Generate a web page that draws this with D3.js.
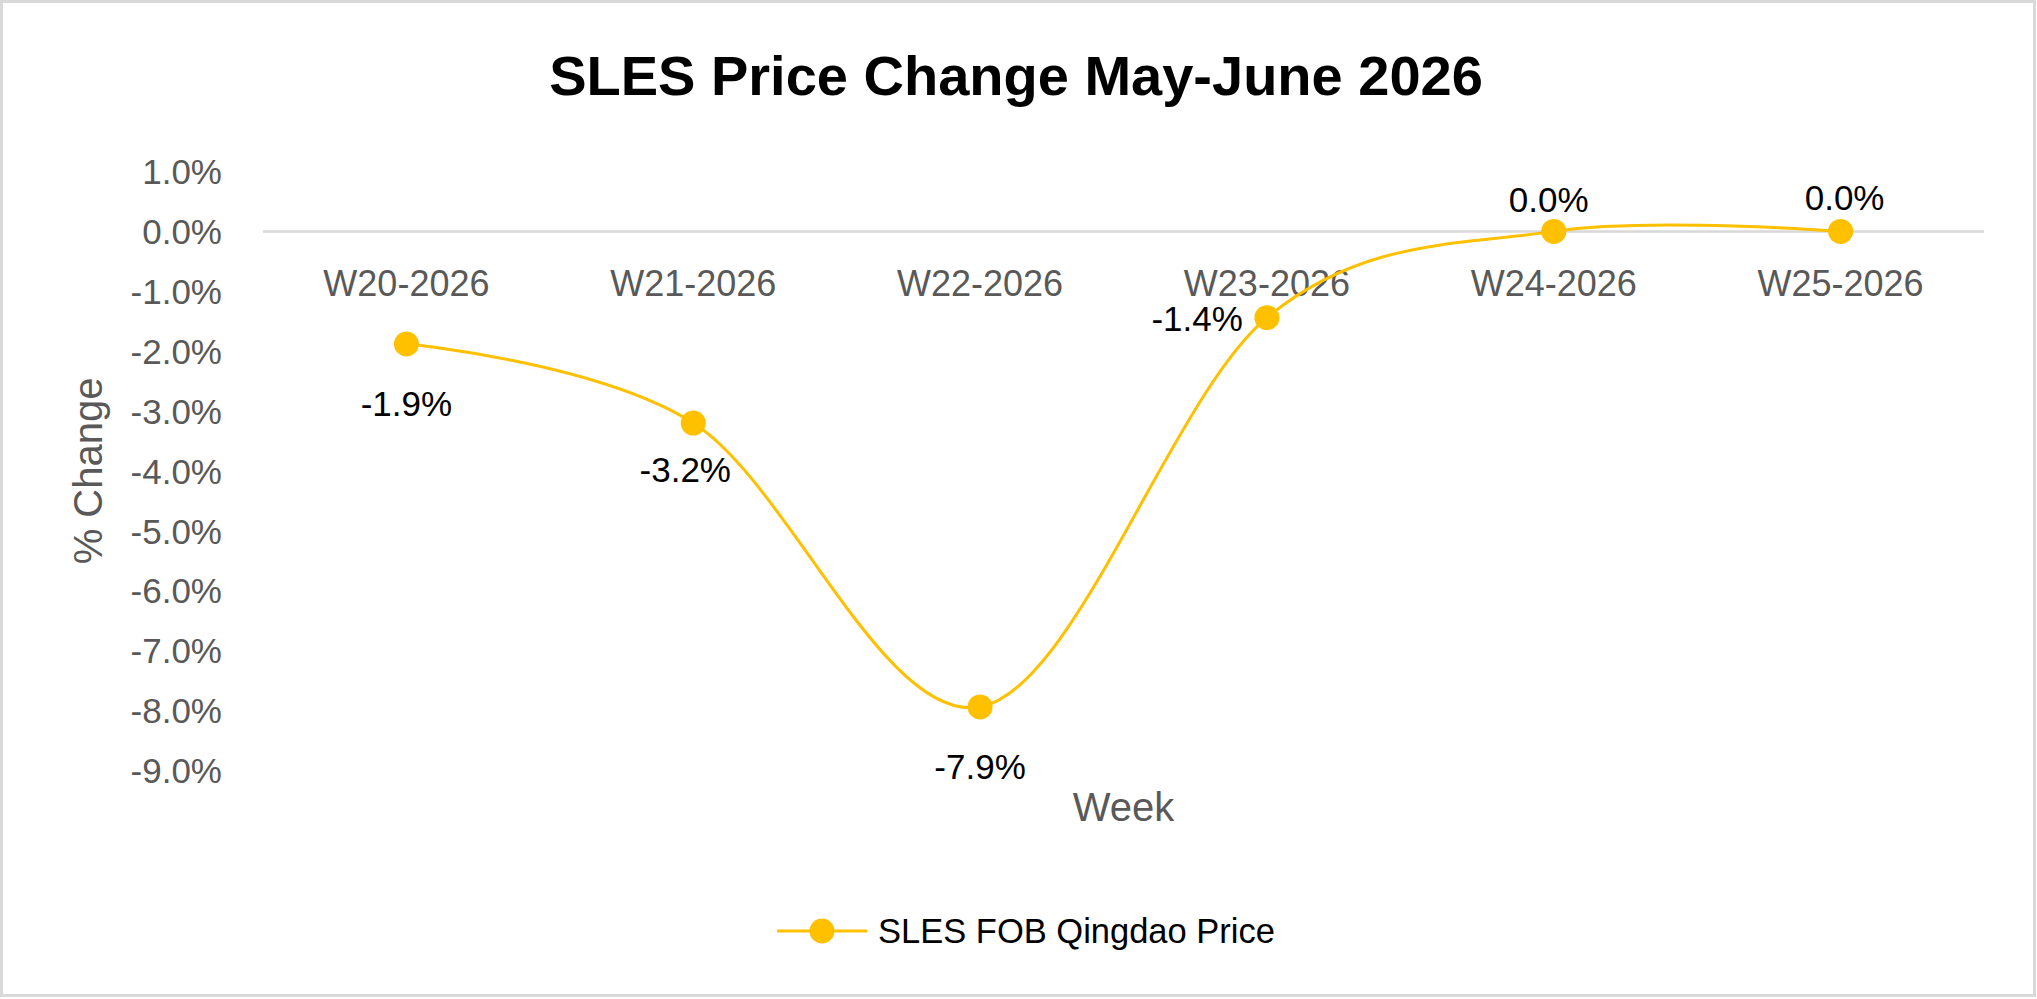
<!DOCTYPE html>
<html>
<head>
<meta charset="utf-8">
<script src="https://cdn.jsdelivr.net/npm/d3@7"></script>
<style>
  html, body { margin: 0; padding: 0; background: #fff; }
  svg { display: block; }
  text { font-family: "Liberation Sans", Arial, sans-serif; }
</style>
</head>
<body>
<svg id="chart" width="2037" height="999"></svg>
<script>
// ---- data ----
const categories = ["W20-2026", "W21-2026", "W22-2026", "W23-2026", "W24-2026", "W25-2026"];
const priceChange = [-1.88, -3.2, -7.94, -1.44, 0.0, 0.0];   // % change
const yTicks = [1, 0, -1, -2, -3, -4, -5, -6, -7, -8, -9];
const seriesName = "SLES FOB Qingdao Price";
const titleText = "SLES Price Change May-June 2026";
const xTitle = "Week";
const yTitle = "% Change";

// ---- layout (label placement per point) ----
const labelOffsets = [
  {dx: 0, dy: 60, anchor: "middle"},
  {dx: -8, dy: 47, anchor: "middle"},
  {dx: 0, dy: 60, anchor: "middle"},
  {dx: -24, dy: 1, anchor: "end"},
  {dx: -5, dy: -32, anchor: "middle"},
  {dx: 4, dy: -34, anchor: "middle"}
];

const W = 2037, H = 999;
const plot = {left: 263, right: 1984, top: 171.5, bottom: 770.4};
const gold = "#FFC000";
const grey = "#595959";

const locale = d3.formatLocale({decimal: ".", thousands: ",", grouping: [3], currency: ["$", ""], minus: "-"});
const fmt = v => locale.format(".1f")(Math.abs(v) < 0.05 ? 0 : v) + "%";

const svg = d3.select("#chart");

// border
svg.append("rect").attr("x", 1.5).attr("y", 1.5).attr("width", W - 4).attr("height", H - 5)
  .attr("fill", "#fff").attr("stroke", "#d9d9d9").attr("stroke-width", 3);

const x = d3.scaleBand().domain(categories).range([plot.left, plot.right]).padding(0);
const y = d3.scaleLinear().domain([1, -9]).range([plot.top, plot.bottom]);
const cx = c => x(c) + x.bandwidth() / 2;

// title
svg.append("text").attr("x", 1016).attr("y", 95).attr("text-anchor", "middle")
  .attr("font-size", 56).attr("font-weight", "bold").attr("fill", "#000").text(titleText);

// y axis
const yAxis = d3.axisLeft(y).tickValues(yTicks).tickSize(0).tickPadding(0).tickFormat(fmt);
const gy = svg.append("g").attr("transform", "translate(222,0)").call(yAxis);
gy.select(".domain").remove();
gy.selectAll("text").attr("font-size", 35).attr("fill", grey)
  .attr("font-family", "Liberation Sans, Arial, sans-serif").attr("dy", "0.35em");

// category axis at zero
svg.append("line").attr("x1", plot.left).attr("x2", plot.right)
  .attr("y1", y(0)).attr("y2", y(0)).attr("stroke", "#d9d9d9").attr("stroke-width", 2.5);

const xAxis = d3.axisBottom(x).tickSize(0).tickPadding(0);
const gx = svg.append("g").attr("transform", `translate(0,${y(0)})`).call(xAxis);
gx.select(".domain").remove();
gx.selectAll("text").attr("font-size", 36).attr("fill", grey)
  .attr("font-family", "Liberation Sans, Arial, sans-serif")
  .attr("y", 52).attr("dy", "0.35em");

// axis titles
svg.append("text").attr("x", (plot.left + plot.right) / 2).attr("y", 821)
  .attr("text-anchor", "middle").attr("font-size", 40).attr("fill", grey).text(xTitle);
svg.append("text").attr("transform", `translate(102,${(plot.top + plot.bottom) / 2}) rotate(-90)`)
  .attr("text-anchor", "middle").attr("font-size", 40).attr("fill", grey).text(yTitle);

// line
const pts = categories.map((c, i) => ({c, v: priceChange[i], i}));
const line = d3.line().x(d => cx(d.c)).y(d => y(d.v)).curve(d3.curveCardinal.tension(0));
svg.append("path").datum(pts).attr("d", line).attr("fill", "none")
  .attr("stroke", gold).attr("stroke-width", 3);

svg.selectAll("circle.pt").data(pts).enter().append("circle").attr("class", "pt")
  .attr("cx", d => cx(d.c)).attr("cy", d => y(d.v)).attr("r", 12.5).attr("fill", gold);

// data labels
svg.selectAll("text.lbl").data(pts).enter().append("text").attr("class", "lbl")
  .attr("x", d => cx(d.c) + labelOffsets[d.i].dx)
  .attr("y", d => y(d.v) + labelOffsets[d.i].dy)
  .attr("dy", "0.35em")
  .attr("text-anchor", d => labelOffsets[d.i].anchor)
  .attr("font-size", 35).attr("fill", "#000")
  .text(d => fmt(d.v));

// legend
const lg = svg.append("g");
lg.append("line").attr("x1", 777).attr("x2", 867).attr("y1", 931).attr("y2", 931)
  .attr("stroke", gold).attr("stroke-width", 3);
lg.append("circle").attr("cx", 822).attr("cy", 931).attr("r", 12.5).attr("fill", gold);
lg.append("text").attr("x", 878).attr("y", 931).attr("dy", "0.35em")
  .attr("font-size", 34.5).attr("fill", "#000").text(seriesName);
</script>
</body>
</html>
